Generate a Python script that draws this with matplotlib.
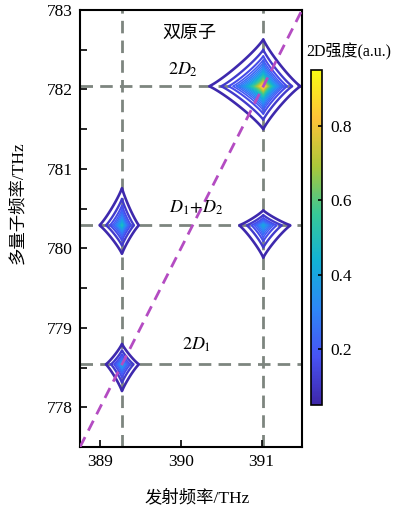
import numpy as np
import matplotlib
matplotlib.use("Agg")
import matplotlib.pyplot as plt
from matplotlib.colors import LinearSegmentedColormap, Normalize
from matplotlib.cm import ScalarMappable
from matplotlib.ticker import MultipleLocator

plt.rcParams['font.family'] = ['Liberation Serif', 'Noto Sans CJK SC']
plt.rcParams['mathtext.fontset'] = 'stix'

# Single-quantum resonances (THz)
D1 = 389.27
D2 = 391.02

# Peak table: emission freq, multi-quantum freq, amplitude,
# decay widths left/right along emission axis, down/up along MQ axis
peak_x = [D1, D1, D2, D2]
peak_y = [2 * D1, D1 + D2, D1 + D2, 2 * D2]
peak_amp = [0.42, 0.50, 0.42, 0.95]
peak_wx_left = [0.103, 0.132, 0.154, 0.243]
peak_wx_right = [0.108, 0.099, 0.174, 0.167]
peak_wy_down = [0.174, 0.17, 0.21, 0.196]
peak_wy_up = [0.133, 0.222, 0.097, 0.214]
shape_power = 0.88

peak_labels = ["$2D_1$", "$D_1\\!+\\!D_2$", "$2D_2$"]
peak_label_x = [390.19, 390.19, 390.02]
peak_label_y = [778.79, 780.51, 782.25]

xlim = (388.75, 391.5)
ylim = (777.5, 783.0)
cbar_ticks = [0.2, 0.4, 0.6, 0.8]
cbar_range = (0.05, 0.95)

parula = LinearSegmentedColormap.from_list("parula", [
    (0.2422, 0.1504, 0.6603), (0.2810, 0.3228, 0.9579),
    (0.1786, 0.5289, 0.9682), (0.0689, 0.6948, 0.8394),
    (0.2161, 0.7843, 0.5923), (0.6720, 0.7793, 0.2227),
    (0.9970, 0.7659, 0.2199), (0.9769, 0.9839, 0.0805)])

# 2D spectrum on a grid
gx = np.linspace(xlim[0], xlim[1], 700)
gy = np.linspace(ylim[0], ylim[1], 1100)
X, Y = np.meshgrid(gx, gy)
Z = np.zeros_like(X)
p = shape_power
for x0, y0, a, wl, wr, wd, wu in zip(peak_x, peak_y, peak_amp, peak_wx_left,
                                     peak_wx_right, peak_wy_down, peak_wy_up):
    dx = X - x0
    dy = Y - y0
    u = np.abs(dx) / np.where(dx < 0, wl, wr)
    v = np.abs(dy) / np.where(dy < 0, wd, wu)
    Z += a * np.exp(-(u ** p + v ** p) ** (1 / p))

fig = plt.figure(figsize=(4.07, 5.05), dpi=100)
ax = fig.add_axes([0.1966, 0.1149, 0.5455, 0.8653])

grid_kw = dict(color="#7d857f", lw=2.0, linestyle=(0, (4.5, 2.6)), zorder=1)
for xv in [D1, D2]:
    ax.axvline(xv, **grid_kw)
for yv in [2 * D1, D1 + D2, 2 * D2]:
    ax.axhline(yv, **grid_kw)

# sparse outer contours, dense core
norm = Normalize(*cbar_range)
levels = np.concatenate([[0.06, 0.11, 0.16], np.linspace(0.2, 0.95, 22)])
widths = np.concatenate([[1.9, 1.7, 1.5], np.linspace(1.2, 0.8, 22)])
ax.contour(X, Y, Z, levels=levels, cmap=parula, norm=norm,
           linewidths=widths, zorder=2)

diag = np.array(xlim)
ax.plot(diag, 2 * diag, color="#b44cc2", lw=2.0,
        linestyle=(0, (4.0, 2.6)), zorder=3)

ax.set_xlim(*xlim)
ax.set_ylim(*ylim)
ax.xaxis.set_major_locator(MultipleLocator(1))
ax.yaxis.set_major_locator(MultipleLocator(1))
ax.yaxis.set_minor_locator(MultipleLocator(0.5))
ax.tick_params(direction="in", length=5, width=1.2, labelsize=12.5,
               which="both", pad=5)
ax.tick_params(which="minor", length=5)
for s in ax.spines.values():
    s.set_linewidth(1.5)

ax.set_xlabel("发射频率/THz", fontsize=12.5)
ax.set_ylabel("多量子频率/THz", fontsize=12.5)
ax.xaxis.set_label_coords(0.527, -0.097)
ax.yaxis.set_label_coords(-0.243, 0.558)

for t, lx, ly in zip(peak_labels, peak_label_x, peak_label_y):
    ax.text(lx, ly, t, fontsize=13, ha="center", va="center", zorder=4)
ax.text(390.1, 782.7, "双原子", fontsize=13, ha="center", va="center", zorder=4)

cax = fig.add_axes([0.764, 0.198, 0.027, 0.663])
sm = ScalarMappable(norm=norm, cmap=parula)
cb = fig.colorbar(sm, cax=cax, ticks=cbar_ticks)
cb.outline.set_linewidth(1.2)
cax.tick_params(direction="in", length=3, width=1.2, labelsize=12.5, pad=6)
cax.set_yticklabels([f"{t:.1f}" for t in cbar_ticks])
fig.text(0.752, 0.897, "2D强度(a.u.)", fontsize=11.5, ha="left", va="center")

fig.savefig("out.png", dpi=100)
